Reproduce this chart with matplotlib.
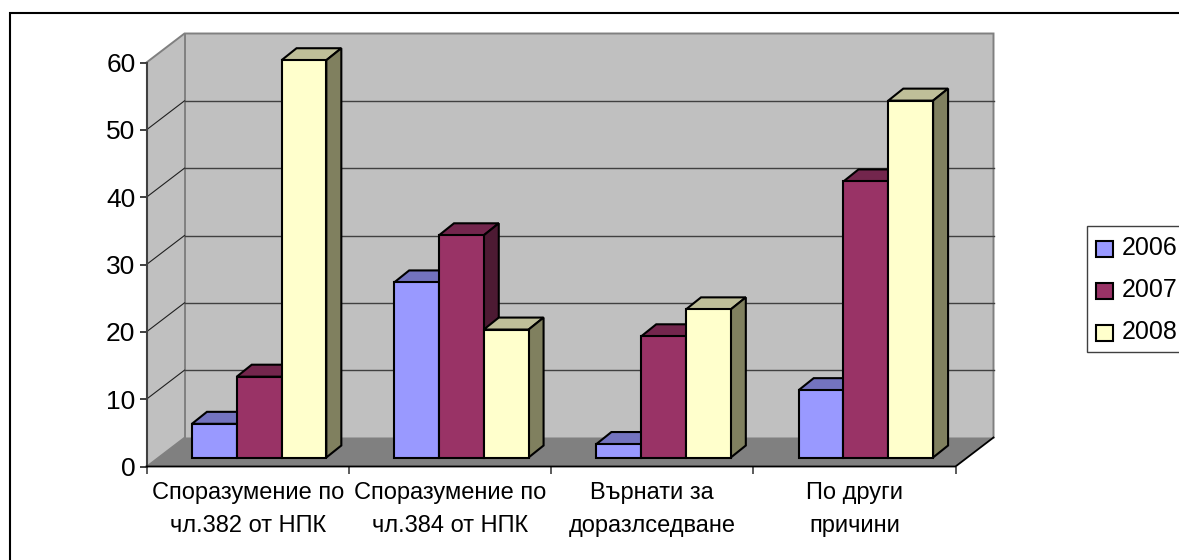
import matplotlib
matplotlib.use('Agg')
import matplotlib.pyplot as plt
from matplotlib.patches import Polygon, Rectangle

plt.rcParams['font.family'] = ['Liberation Sans', 'DejaVu Sans']

categories = ['Споразумение по\nчл.382 от НПК', 'Споразумение по\nчл.384 от НПК',
              'Върнати за\nдоразлседване', 'По други\nпричини']
years = ['2006', '2007', '2008']
vals_2006 = [5, 26, 2, 10]
vals_2007 = [12, 33, 18, 41]
vals_2008 = [59, 19, 22, 53]
y_ticks = [0, 10, 20, 30, 40, 50, 60]

W, H = 1179, 560
fig = plt.figure(figsize=(W / 100, H / 100), dpi=100, facecolor='white')

# frame round the whole chart, right and bottom edges fall outside the image
fig.add_artist(Rectangle((10 / W, 1 - 600 / H), 1300 / W, 587 / H, transform=fig.transFigure,
                         fill=False, ec='black', lw=1.5))

# axes = front plane of the 3d box
left, right, top, bottom = 146.5, 955.5, 62.5, 466.5
ax = fig.add_axes([left / W, 1 - bottom / H, (right - left) / W, (bottom - top) / H])
ax.set_xlim(0, 4)
ax.set_ylim(0, 60)
ax.patch.set_visible(False)
for s in ax.spines.values():
    s.set_visible(False)

px = 4 / (right - left)
py = 60 / (bottom - top)
dx, dy = 38 * px, 29 * py  # box depth


def poly(pts, fc, ec='black', lw=1.5, z=2):
    ax.add_patch(Polygon(pts, closed=True, fc=fc, ec=ec, lw=lw, clip_on=False, zorder=z,
                         joinstyle='miter'))


# walls and floor
poly([(0, 0), (dx, dy), (dx, 60 + dy), (0, 60)], '#c0c0c0', ec='none', z=1)
poly([(dx, dy), (4 + dx, dy), (4 + dx, 60 + dy), (dx, 60 + dy)], '#c0c0c0', ec='none', z=1)
poly([(0, 0), (4, 0), (4 + dx, dy), (dx, dy)], '#808080', ec='none', z=1)
ax.plot([0, dx, 4 + dx, 4 + dx], [60, 60 + dy, 60 + dy, dy], color='#808080', lw=1.4,
        clip_on=False, zorder=1.5, solid_joinstyle='miter')
ax.plot([dx, dx], [dy, 60 + dy], color='#808080', lw=1.4, clip_on=False, zorder=1.5)

# gridlines on both walls
for v in y_ticks[1:-1]:
    ax.plot([0, dx], [v, v + dy], color='#202020', lw=0.8, clip_on=False, zorder=1.6)
    ax.plot([dx, 4 + dx], [v + dy, v + dy], color='#404040', lw=1, clip_on=False, zorder=1.6)

# front edges
ax.plot([0, 0], [0, 60], color='#404040', lw=1.5, clip_on=False, zorder=1.7)
ax.plot([0, 4, 4 + dx], [0, 0, dy], color='black', lw=1.3, clip_on=False, zorder=1.7)
ax.plot([0, dx], [0, dy], color='#808080', lw=1, clip_on=False, zorder=1.6)

# bars
series = [vals_2006, vals_2007, vals_2008]
faces = [('#9999ff', '#7373bf', '#5c5c99'),
         ('#993366', '#73264d', '#4d1a33'),
         ('#ffffcc', '#bfbf99', '#80805f')]
bar_w = 44.8 * px
pad = (1 - 3 * bar_w) / 2
base_x, base_y = 11.5 * px, 9 * py
bx, by = 15 * px, 12 * py  # bar depth
z = 3
for c in range(len(categories)):
    for s, vals in enumerate(series):
        v = vals[c]
        x0 = c + pad + s * bar_w + base_x
        x1 = x0 + bar_w
        y0, y1 = base_y, base_y + v
        front, topc, side = faces[s]
        poly([(x0, y1), (x0 + bx, y1 + by), (x1 + bx, y1 + by), (x1, y1)], topc, z=z)
        poly([(x1, y0), (x1 + bx, y0 + by), (x1 + bx, y1 + by), (x1, y1)], side, z=z)
        poly([(x0, y0), (x1, y0), (x1, y1), (x0, y1)], front, z=z)
        z += 1

ax.set_yticks(y_ticks)
ax.set_xticks(range(5))
ax.set_xticklabels([])
ax.tick_params(axis='y', length=5, width=1.2, color='#202020', labelsize=19, pad=3)
ax.tick_params(axis='x', length=5, width=1.2, color='#404040')

for c, lab in enumerate(categories):
    ax.text(c + 0.5, -16 / (bottom - top), lab, transform=ax.get_xaxis_transform(), ha='center',
            va='top', fontsize=17, linespacing=1.6, color='black', clip_on=False)

# legend, runs off the right side like the reference
fig.add_artist(Rectangle((1087 / W, 1 - 352 / H), 200 / W, 126 / H, transform=fig.transFigure,
                         fc='white', ec='#404040', lw=1))
for i, yr in enumerate(years):
    yc = 249 + i * 42
    fig.add_artist(Rectangle((1096 / W, 1 - (yc + 8) / H), 17 / W, 16 / H,
                             transform=fig.transFigure, fc=faces[i][0], ec='black', lw=1.5))
    fig.text(1122 / W, 1 - (yc - 1) / H, yr, fontsize=18, va='center', ha='left', color='black')

fig.savefig('out.png', dpi=100)
